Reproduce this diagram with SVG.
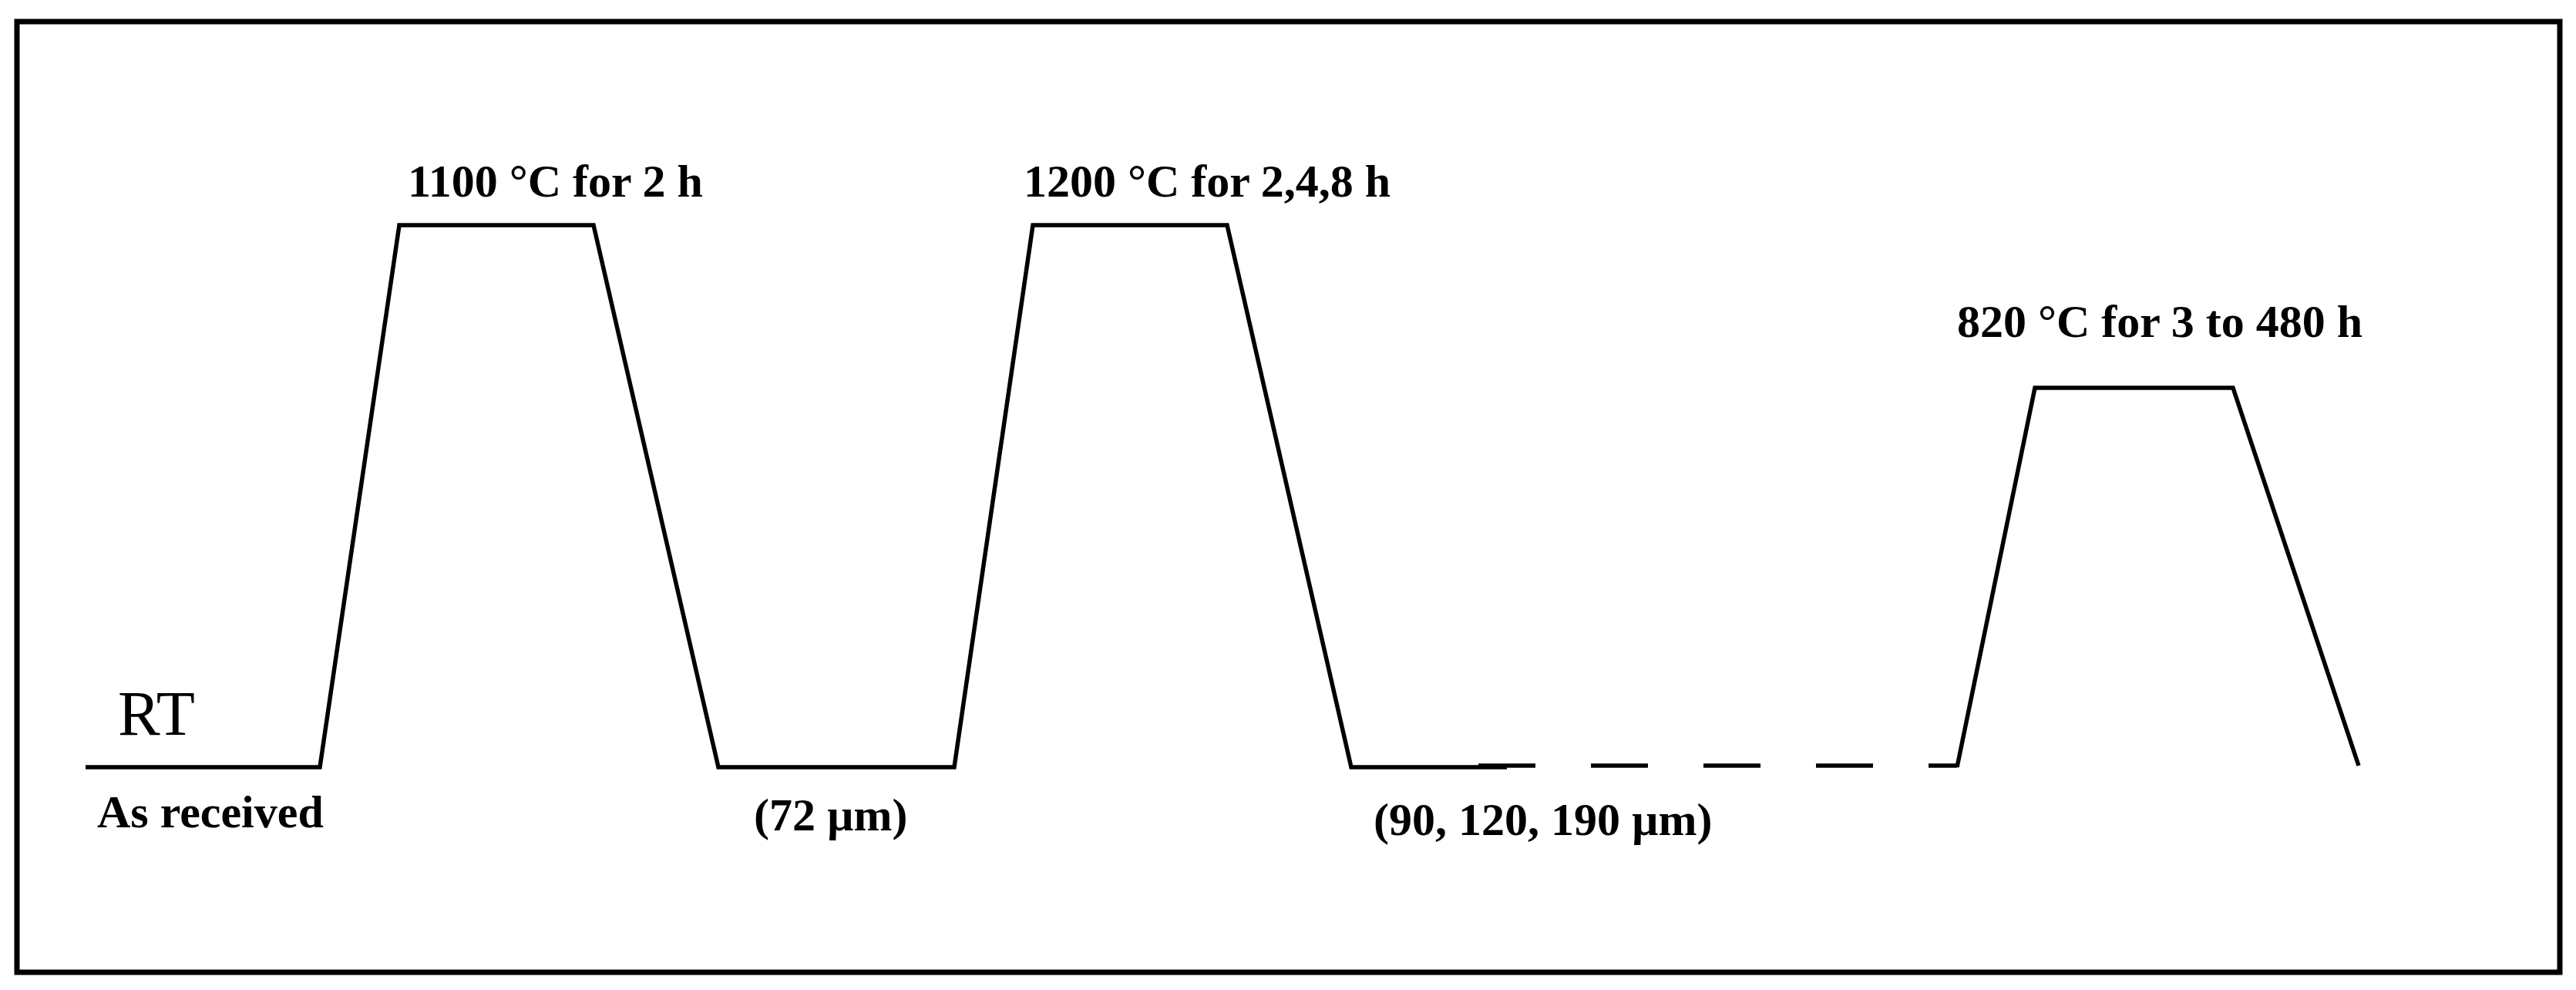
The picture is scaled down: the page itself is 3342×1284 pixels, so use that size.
<svg xmlns="http://www.w3.org/2000/svg" width="3342" height="1284" viewBox="0 0 3342 1284">
<style>
.lbl{font-family:"Liberation Serif","Times New Roman",serif;font-weight:bold;font-size:60px;fill:#000}
.rt{font-family:"Liberation Serif","Times New Roman",serif;font-size:82px;fill:#000}
.ln{fill:none;stroke:#000;stroke-width:5.5;stroke-linejoin:miter;stroke-linecap:butt}
</style>
<rect x="0" y="0" width="3342" height="1284" fill="#fff"/>
<rect id="frame" x="22" y="28" width="3299" height="1233" fill="none" stroke="#000" stroke-width="7"/>
<g id="connectors">
<polyline class="ln" points="111,995 415,995 518,292 770,292 932,995 1238,995 1340,292 1592,292 1753,995 1955,995"/>
<line class="ln" x1="1918" y1="993" x2="2539" y2="993" stroke-dasharray="74 72"/>
<polyline class="ln" points="2539,995 2640,503 2897,503 3060,993"/>
</g>
<g id="node-rt"><text class="rt" x="153" y="953">RT</text></g>
<g id="node-asreceived"><text class="lbl" x="126" y="1073">As received</text></g>
<g id="node-1100"><text class="lbl" x="529" y="255">1100 °C for 2 h</text></g>
<g id="node-72"><text class="lbl" x="978" y="1077">(72 µm)</text></g>
<g id="node-1200"><text class="lbl" x="1328" y="255">1200 °C for 2,4,8 h</text></g>
<g id="node-90"><text class="lbl" x="1782" y="1083">(90, 120, 190 µm)</text></g>
<g id="node-820"><text class="lbl" x="2539" y="437">820 °C for 3 to 480 h</text></g>
</svg>
